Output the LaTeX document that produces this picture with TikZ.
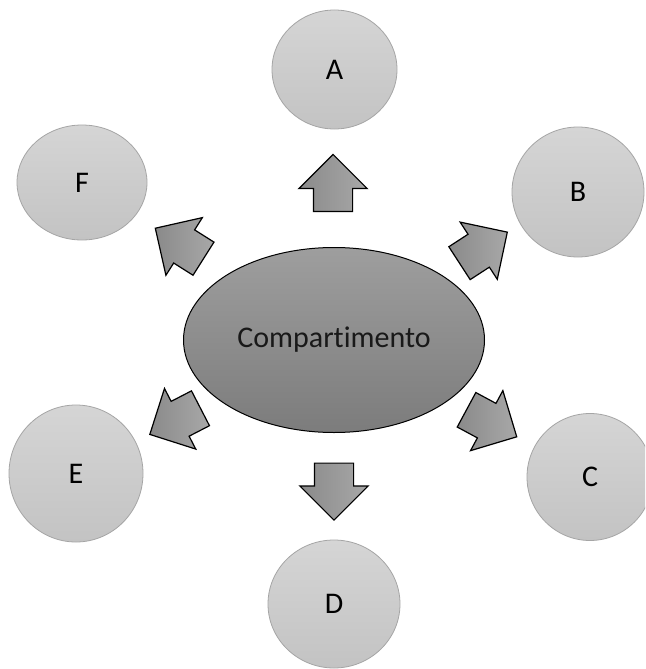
\documentclass[tikz,border=0pt]{standalone}
\usepackage{fontspec}
\setmainfont{Carlito}[RawFeature=-liga]
\usetikzlibrary{shapes.geometric,shapes.arrows}
\definecolor{circT}{RGB}{213,213,213}
\definecolor{circB}{RGB}{195,195,195}
\definecolor{circL}{RGB}{165,165,165}
\definecolor{ellT}{RGB}{158,158,158}
\definecolor{ellB}{RGB}{124,124,124}
\definecolor{arrT}{RGB}{138,138,138}
\definecolor{arrH}{RGB}{168,168,168}
\tikzset{
  outer/.style={ellipse, draw=circL, line width=0.8pt, top color=circT, bottom color=circB,
    inner sep=0pt, font=\fontsize{30}{36}\selectfont},
  hub/.style={ellipse, draw=black, line width=1pt, top color=ellT, bottom color=ellB,
    inner sep=0pt, font=\fontsize{30}{36}\selectfont, text=black!90},
  blockarrow/.style={single arrow, draw=black, line width=1.2pt, minimum height=57pt,
    single arrow head extend=14.5pt, single arrow head indent=0pt,
    inner xsep=0pt, inner ysep=19pt, left color=arrT, right color=arrH, anchor=tail}
}
\begin{document}
\begin{tikzpicture}[x=1pt,y=-1pt]
\useasboundingbox (0,0) rectangle (645,669);
\clip (0,0) rectangle (645,669);
\fill[white] (0,0) rectangle (645,669);
% outer circles
\node[outer, minimum width=125pt, minimum height=119pt] (A) at (334.5,69.5) {A};
\node[outer, minimum width=132pt, minimum height=130pt] (B) at (578,192) {B};
\node[outer, minimum width=126pt, minimum height=127pt] (C) at (590,477) {C};
\node[outer, minimum width=132pt, minimum height=128pt] (D) at (334,604) {D};
\node[outer, minimum width=134pt, minimum height=137pt] (E) at (76,473.5) {E};
\node[outer, minimum width=130pt, minimum height=115pt] (F) at (82,182.5) {F};
% central ellipse
\node[hub, minimum width=301pt, minimum height=185pt] (hubnode) at (334,340) {Compartimento};
% block arrows (placed by their tail)
\node[blockarrow, rotate=90] (arA) at (333,212) {};
\node[blockarrow, rotate=33] (arB) at (459,263.5) {};
\node[blockarrow, rotate=-28.3] (arC) at (466,409.5) {};
\node[blockarrow, rotate=-90] (arD) at (334,462.5) {};
\node[blockarrow, rotate=207.3] (arE) at (201,408) {};
\node[blockarrow, rotate=147.7] (arF) at (204,259) {};
\end{tikzpicture}
\end{document}
